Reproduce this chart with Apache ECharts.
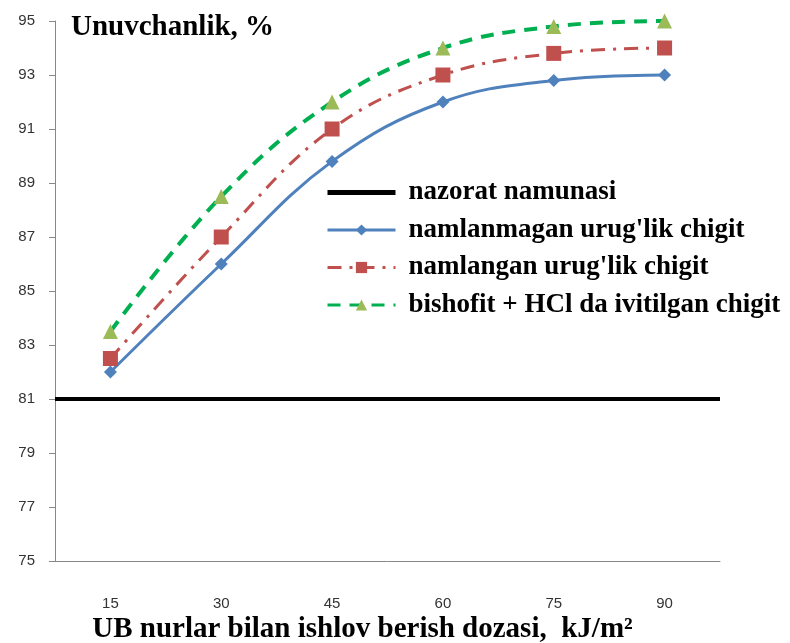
<!DOCTYPE html>
<html>
<head>
<meta charset="utf-8">
<script src="https://cdn.jsdelivr.net/npm/echarts@6/dist/echarts.min.js"></script>
<style>
  html, body { margin: 0; padding: 0; background: #fff; }
  #main { width: 790px; height: 643px; }
</style>
</head>
<body>
<div id="main"></div>
<script>
// dose, kJ/m2
var doses = ['15', '30', '45', '60', '75', '90'];
var controlValue = 81;
var unsoaked = [82, 86, 89.8, 92, 92.8, 93];
var soaked = [82.5, 87, 91, 93, 93.8, 94];
var bishofit = [83.5, 88.5, 92, 94, 94.8, 95];

var serif = 'Liberation Serif';
var myChart = echarts.init(document.getElementById('main'));
var option = {
    backgroundColor: '#fff',
    animation: false,
    title: {
        text: 'Unuvchanlik, %',
        left: 66,
        top: 8,
        textStyle: { fontFamily: serif, fontWeight: 'bold', fontSize: 29, color: '#000' }
    },
    legend: {
        orient: 'vertical',
        left: 320,
        top: 174,
        itemWidth: 68,
        itemHeight: 14,
        itemGap: 10.5,
        textStyle: { fontFamily: serif, fontWeight: 'bold', fontSize: 27, color: '#000', padding: [0, 0, 0, 8] },
        data: [
            { name: 'nazorat namunasi', itemStyle: { opacity: 0 }, lineStyle: { width: 5 } },
            { name: "namlanmagan urug'lik chigit", lineStyle: { width: 3 } },
            { name: "namlangan urug'lik chigit", lineStyle: { width: 3 } },
            { name: 'bishofit + HCl da ivitilgan chigit', lineStyle: { width: 3 } }
        ]
    },
    grid: { left: 55, right: 70, top: 21, bottom: 82, containLabel: false, outerBoundsMode: 'none' },
    xAxis: {
        type: 'category',
        data: doses,
        boundaryGap: true,
        name: 'UB nurlar bilan ishlov berish dozasi,  kJ/m²',
        nameLocation: 'middle',
        nameGap: 54,
        nameMoveOverlap: false,
        nameTextStyle: { fontFamily: serif, fontWeight: 'bold', fontSize: 29, color: '#000', padding: [0, 50, 0, 0] },
        axisLine: { lineStyle: { color: '#888', width: 1 } },
        axisTick: { alignWithLabel: false, length: 6, lineStyle: { color: '#888' } },
        axisLabel: { margin: 35, fontFamily: 'Liberation Sans', fontSize: 15, color: '#333' }
    },
    yAxis: {
        type: 'value',
        min: 75,
        max: 95,
        interval: 2,
        axisLine: { show: true, lineStyle: { color: '#888', width: 1 } },
        axisTick: { show: true, length: 6, lineStyle: { color: '#888' } },
        splitLine: { show: false },
        axisLabel: { margin: 20, fontFamily: 'Liberation Sans', fontSize: 15, color: '#333' }
    },
    series: [
        {
            name: 'nazorat namunasi',
            type: 'line',
            data: [],
            symbol: 'none',
            itemStyle: { color: '#000' },
            lineStyle: { color: '#000', width: 5 },
            markLine: {
                silent: true,
                symbol: 'none',
                label: { show: false },
                lineStyle: { color: '#000', width: 4, type: 'solid' },
                data: [{ yAxis: controlValue }]
            }
        },
        {
            name: "namlanmagan urug'lik chigit",
            type: 'line',
            data: unsoaked,
            smooth: 0.4,
            symbol: 'diamond',
            symbolSize: 13,
            itemStyle: { color: '#4f81bd' },
            lineStyle: { color: '#4f81bd', width: 3 }
        },
        {
            name: "namlangan urug'lik chigit",
            type: 'line',
            data: soaked,
            smooth: 0.4,
            symbol: 'rect',
            symbolSize: 15,
            itemStyle: { color: '#c0504d' },
            lineStyle: { color: '#c0504d', width: 3, type: [14, 8, 3, 8] }
        },
        {
            name: 'bishofit + HCl da ivitilgan chigit',
            type: 'line',
            data: bishofit,
            smooth: 0.4,
            symbol: 'triangle',
            symbolSize: 15,
            itemStyle: { color: '#9bbb59' },
            lineStyle: { color: '#00b050', width: 4, type: [13, 9] }
        }
    ]
};
myChart.setOption(option);
</script>
</body>
</html>
